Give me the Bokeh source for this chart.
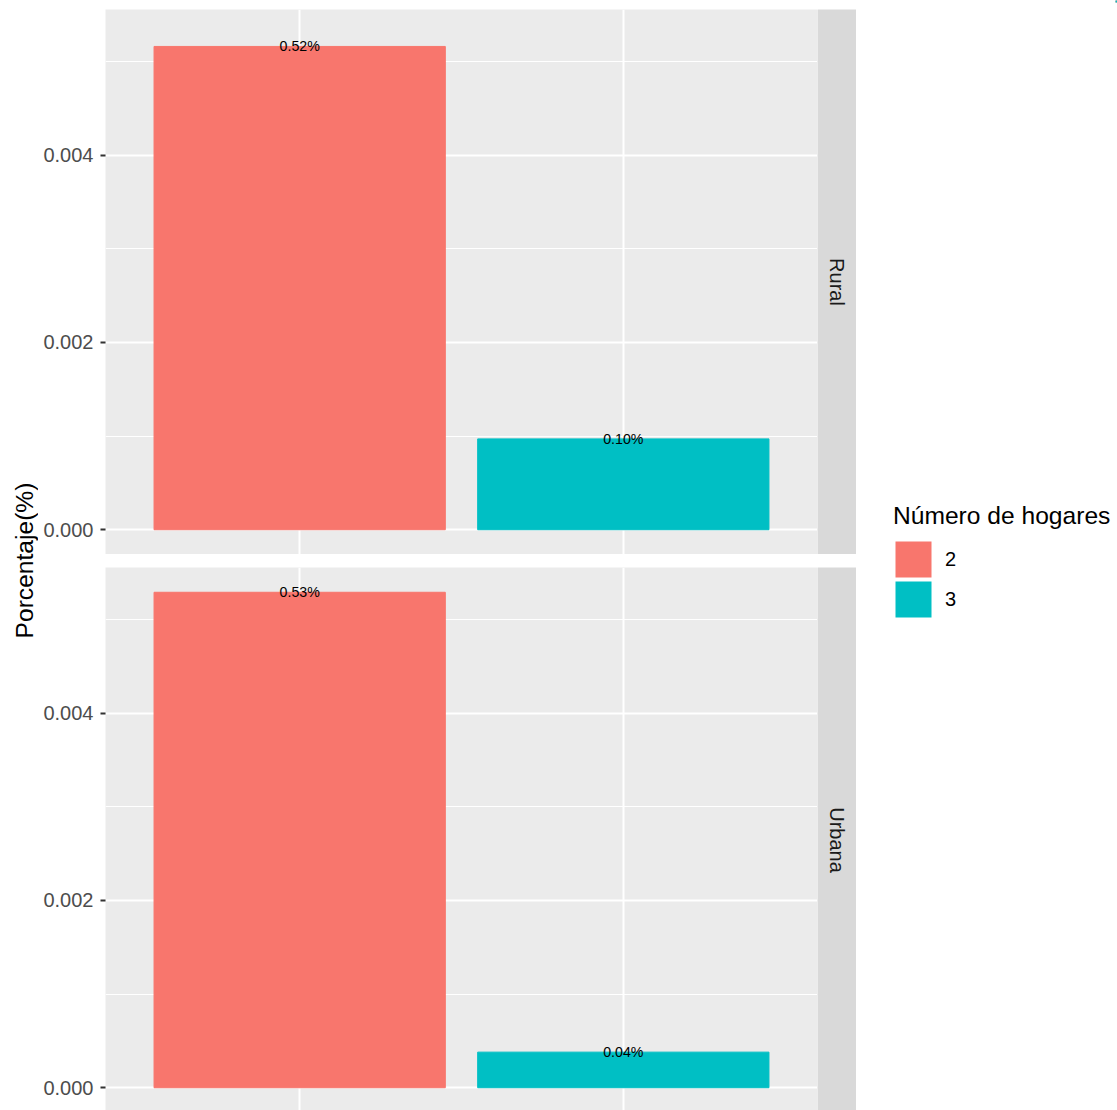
import math
from bokeh.plotting import figure
from bokeh.layouts import row, column, Spacer
from bokeh.models import (ColumnDataSource, FactorRange, Range1d, FixedTicker,
                          PrintfTickFormatter, Legend, LegendItem)
from bokeh.core.properties import value
from bokeh.embed import file_html
from bokeh.resources import INLINE

# ---- data ----
hogares = ["2", "3"]
areas = ["Rural", "Urbana"]
rural = [0.00516, 0.00097]
urbana = [0.00529, 0.00038]
colors = ["#F8766D", "#00BFC4"]
y_ticks = [0.0, 0.002, 0.004]
y_minor = [0.001, 0.003, 0.005]
legend_title = "Número de hogares"
y_title = "Porcentaje(%)"

FONT = "Liberation Sans"
SMALL = "20px"
BIG = "24.6px"
ymax_data = max(rural + urbana)
pad = 0.05 * ymax_data
y_lo, y_hi = -pad, ymax_data + pad
PANEL_H = 545
TOP_BORDER = 9
GAP = 13
TOTAL_H = 1110
per_px = (y_hi - y_lo) / PANEL_H
BOTTOM_H = TOTAL_H - TOP_BORDER - PANEL_H - GAP
bottom_lo = y_hi - BOTTOM_H * per_px


def panel(vals, h, lo, top_border):
    src = ColumnDataSource(dict(x=hogares, top=vals, color=colors,
                                label=[f"{v * 100:.2f}%" for v in vals]))
    p = figure(width=779, height=h + top_border,
               x_range=FactorRange(factors=hogares, range_padding=0.1),
               y_range=Range1d(lo, y_hi), x_axis_location=None,
               output_backend="svg", toolbar_location=None,
               min_border=0, min_border_left=67, min_border_top=top_border,
               background_fill_color="#EBEBEB", border_fill_color="white",
               outline_line_color=None)
    p.vbar(x="x", top="top", bottom=0, width=0.9, color="color", source=src)
    p.text(x="x", y="top", text="label", text_align="center",
           text_baseline="alphabetic", text_font=value(FONT),
           text_font_size="14.2px", text_color="black", source=src)
    ax = p.yaxis[0]
    ax.ticker = FixedTicker(ticks=y_ticks, minor_ticks=y_minor)
    ax.formatter = PrintfTickFormatter(format="%.3f")
    ax.axis_line_color = None
    ax.major_tick_line_color = "#333333"
    ax.major_tick_line_width = 2
    ax.major_tick_out = 5
    ax.major_tick_in = 0
    ax.minor_tick_line_color = None
    ax.major_label_standoff = 7
    ax.major_label_text_font = FONT
    ax.major_label_text_font_size = SMALL
    ax.major_label_text_color = "#4D4D4D"
    p.grid.grid_line_color = "white"
    p.grid.grid_line_width = 2
    p.ygrid.minor_grid_line_color = "white"
    p.ygrid.minor_grid_line_width = 1
    return p


def strip(txt, h, top_border, ty):
    s = figure(width=39, height=h + top_border, x_range=Range1d(0, 1),
               y_range=Range1d(0, h), x_axis_location=None, y_axis_location=None,
               output_backend="svg", toolbar_location=None,
               min_border=0, min_border_top=top_border,
               background_fill_color="#D9D9D9", border_fill_color="white",
               outline_line_color=None)
    s.grid.visible = False
    s.text(x=[0.5], y=[ty], text=[txt], angle=-math.pi / 2,
           text_align="center", text_baseline="middle",
           text_font=value(FONT), text_font_size=SMALL, text_color="#1A1A1A")
    return s


p1 = panel(rural, PANEL_H, y_lo, TOP_BORDER)
s1 = strip(areas[0], PANEL_H, TOP_BORDER, PANEL_H / 2)
p2 = panel(urbana, BOTTOM_H, bottom_lo, 0)
s2 = strip(areas[1], BOTTOM_H, 0, BOTTOM_H - PANEL_H / 2)

# y title
yl = figure(width=38, height=TOTAL_H, x_range=Range1d(0, 38), y_range=Range1d(0, TOTAL_H),
            x_axis_location=None, y_axis_location=None, output_backend="svg",
            toolbar_location=None, min_border=0, outline_line_color=None)
yl.grid.visible = False
yl.text(x=[23.5], y=[TOTAL_H - 560], text=[y_title], angle=math.pi / 2,
        text_align="center", text_baseline="middle", text_font=value(FONT),
        text_font_size=BIG, text_color="black")

# legend
lf = figure(width=261, height=TOTAL_H, x_range=Range1d(0, 1), y_range=Range1d(0, 1),
            x_axis_location=None, y_axis_location=None, output_backend="svg",
            toolbar_location=None, min_border=0, outline_line_color=None)
lf.grid.visible = False
items = []
for lab, col in zip(hogares, colors):
    # keys only: placed outside the visible range of this legend panel
    r = lf.vbar(x=[5], top=[5], bottom=4, width=0.5, fill_color=col,
                line_color=col, line_width=4, line_join="miter")
    items.append(LegendItem(label=lab, renderers=[r]))
leg = Legend(items=items, title=legend_title, location=(37, TOTAL_H - 619),
             glyph_width=40, glyph_height=40, spacing=0, padding=0, margin=0,
             label_standoff=12, label_text_font=FONT, label_text_font_size=SMALL,
             label_text_color="black", title_text_font=FONT, title_text_font_size=BIG,
             title_text_font_style="normal", title_text_color="black", title_standoff=9,
             border_line_color=None, background_fill_alpha=0)
lf.add_layout(leg)

layout = row(yl, column(row(p1, s1), Spacer(width=818, height=GAP), row(p2, s2)), lf)

open("out.html", "w").write(file_html(layout, INLINE))
